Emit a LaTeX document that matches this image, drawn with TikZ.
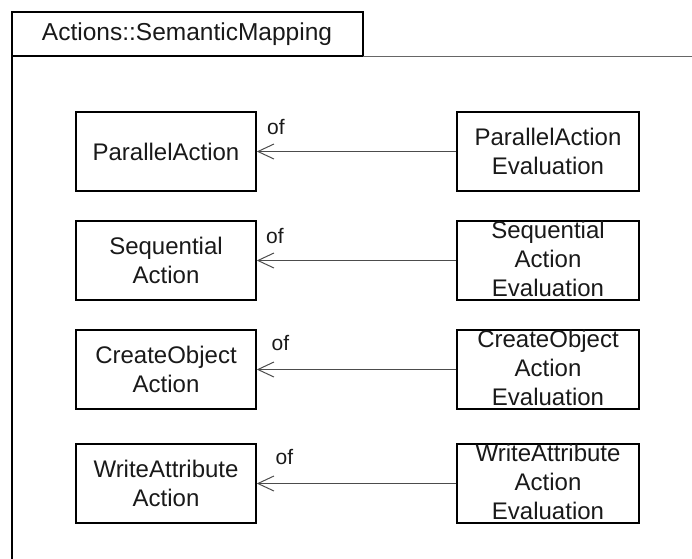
\documentclass[tikz,border=0pt]{standalone}
\usepackage{fontspec}
\setmainfont{Liberation Sans}
\usetikzlibrary{arrows.meta}
\begin{document}
\begin{tikzpicture}[x=1pt,y=-1pt,
  cls/.style={draw=black, line width=1.5pt, minimum width=180pt, minimum height=79pt, inner sep=0pt},
  clsr/.style={cls, minimum width=182pt},
  lbl/.style={font=\fontsize{24}{29}\selectfont, align=center, inner sep=0pt, text=black!90},
  lbl3/.style={lbl, yshift=1.5pt},
  assoc/.style={draw=black!70, line width=1pt, -{Straight Barb[length=16pt,width=15pt,line width=1pt]}},
  oflbl/.style={font=\fontsize{21}{25}\selectfont, inner sep=0pt, text=black!90}]
\useasboundingbox (0,0) rectangle (692,558);
% package frame
\draw[line width=1.5pt] (12,560) -- (12,12) -- (363,12) -- (363,56);
\draw[line width=1.5pt] (12,56) -- (363,56);
\draw[line width=1pt, black!60] (363,56) -- (692,56);
\node[lbl, font=\fontsize{24.5}{29}\selectfont] (title) at (187,34) {Actions::SemanticMapping};
% classes
\node[cls,  label={[lbl]center:ParallelAction}] (pa) at (166,151.5) {};
\node[clsr, label={[lbl]center:{ParallelAction\\Evaluation}}] (pae) at (548,151.5) {};
\node[cls,  label={[lbl]center:{Sequential\\Action}}] (sa) at (166,260.5) {};
\node[clsr, label={[lbl3]center:{Sequential\\Action\\Evaluation}}] (sae) at (548,260.5) {};
\node[cls,  label={[lbl]center:{CreateObject\\Action}}] (ca) at (166,369.5) {};
\node[clsr, label={[lbl3]center:{CreateObject\\Action\\Evaluation}}] (cae) at (548,369.5) {};
\node[cls,  label={[lbl]center:{WriteAttribute\\Action}}] (wa) at (166,483.5) {};
\node[clsr, label={[lbl3]center:{WriteAttribute\\Action\\Evaluation}}] (wae) at (548,483.5) {};
% associations
\draw[assoc] (pae.west) -- (pa.east);
\draw[assoc] (sae.west) -- (sa.east);
\draw[assoc] (cae.west) -- (ca.east);
\draw[assoc] (wae.west) -- (wa.east);
\node[oflbl] (of1) at (276,127) {of};
\node[oflbl] (of2) at (275,236) {of};
\node[oflbl] (of3) at (280.5,343) {of};
\node[oflbl] (of4) at (284.5,457) {of};
\end{tikzpicture}
\end{document}
